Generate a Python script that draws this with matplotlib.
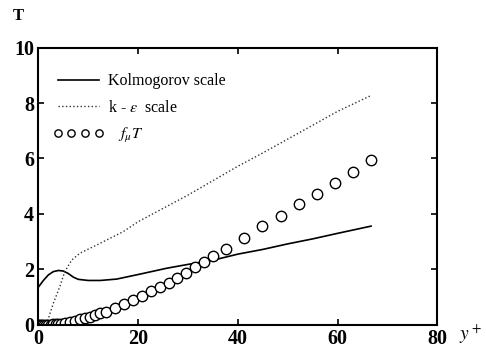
import matplotlib
matplotlib.use("Agg")
import matplotlib.pyplot as plt
import numpy as np

plt.rcParams["font.family"] = ["Liberation Serif", "DejaVu Serif"]
plt.rcParams["mathtext.fontset"] = "stix"

# Kolmogorov scale (solid)
kol_x = [0, 1, 2, 3, 4, 5, 6, 7, 8, 10, 12.4, 15.7, 20.4, 25.7, 30, 35, 40,
         45, 50, 55, 60, 66.7]
kol_y = [1.36, 1.6, 1.8, 1.92, 1.96, 1.94, 1.85, 1.72, 1.64, 1.6, 1.6, 1.65,
         1.83, 2.04, 2.18, 2.33, 2.55, 2.72, 2.92, 3.1, 3.3, 3.56]

# k-epsilon scale (dotted)
ke_x = [0, 1.7, 3.0, 4.3, 5.3, 6.7, 8.3, 11.7, 17, 20, 25, 30, 35, 40, 45,
        50, 55, 60, 66.8]
ke_y = [0.0, 0.06, 0.78, 1.38, 1.92, 2.34, 2.58, 2.88, 3.36, 3.72, 4.2, 4.68,
        5.2, 5.72, 6.2, 6.7, 7.2, 7.7, 8.28]

# f_mu T (circles)
fmu_x = [0, 0.2, 0.5, 0.8, 1.2, 1.6, 2.0, 2.5, 3.0, 3.5, 4.0, 4.6, 5.4, 6.4,
         7.4, 8.4, 9.4, 10.3, 11.4, 12.4, 13.6, 15.3, 17.1, 18.9, 20.7, 22.5,
         24.3, 26.1, 27.7, 29.6, 31.4, 33.2, 35.1, 37.6, 41.2, 44.8, 48.7,
         52.3, 55.9, 59.5, 63.1, 66.7]
fmu_y = [0.0, 0.0, 0.0, 0.0, 0.0, 0.0, 0.01, 0.01, 0.02, 0.02, 0.03, 0.04,
         0.07, 0.1, 0.15, 0.2, 0.25, 0.3, 0.35, 0.41, 0.48, 0.59, 0.74, 0.9,
         1.04, 1.21, 1.36, 1.52, 1.7, 1.88, 2.07, 2.28, 2.48, 2.73, 3.13,
         3.56, 3.93, 4.35, 4.72, 5.13, 5.51, 5.94]

fig = plt.figure(figsize=(4.86, 3.55), dpi=100)
ax = fig.add_axes([0.079, 0.085, 0.821, 0.781])

ax.plot(kol_x, kol_y, "-", color="black", lw=1.2, label="Kolmogorov scale")
ax.plot(ke_x, ke_y, ":", color="#333333", lw=1.0, label=r"k - $\varepsilon$  scale")
ax.plot(fmu_x, fmu_y, "o", mfc="white", mec="black", ms=7.5, mew=1.0,
        label=r"   $f_\mu T$")

ax.set_xlim(0, 80)
ax.set_ylim(0, 10)
ax.set_xticks([0, 20, 40, 60, 80])
ax.set_yticks([0, 2, 4, 6, 8, 10])
ax.tick_params(direction="in", top=True, right=True, length=4, width=1.2,
               labelsize=14.5, pad=3)
for lab in ax.get_xticklabels() + ax.get_yticklabels():
    lab.set_fontweight("bold")
for s in ax.spines.values():
    s.set_linewidth(1.5)

leg = ax.legend(loc="upper left", bbox_to_anchor=(0.02, 0.93), frameon=False,
                fontsize=11.5, handlelength=3.2, handletextpad=0.25,
                labelspacing=0.65, numpoints=4, markerscale=0.7,
                borderaxespad=0)

fig.text(0.037, 0.955, "T", fontsize=12, fontweight="bold", ha="center",
         va="center")
fig.text(0.945, 0.06, r"$y^+$", fontsize=14, ha="left", va="center")

fig.savefig("out.png", dpi=100)
